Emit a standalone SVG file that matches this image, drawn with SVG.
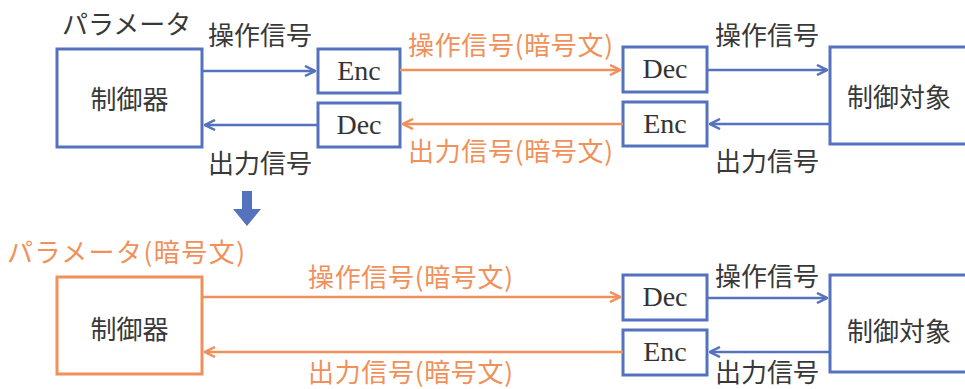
<svg xmlns="http://www.w3.org/2000/svg" width="965" height="389" viewBox="0 0 965 389">
<style>
.bg{fill:#ffffff}
.bb{fill:#ffffff;stroke:#5472bd;stroke-width:3}
.ob{fill:#ffffff;stroke:#f0905a;stroke-width:3}
.jp{font-family:"Noto Sans CJK JP","Noto Sans",sans-serif;font-size:26px}
.k{fill:#383838}
.o{fill:#f0905a}
.ser{font-family:"Liberation Serif","DejaVu Serif",serif;font-size:28px;fill:#333333;text-anchor:middle}
.bl{stroke:#5472bd;stroke-width:2.5;fill:none}
.ol{stroke:#f0905a;stroke-width:2.5;fill:none}
</style>
<defs>
<marker id="ab" viewBox="0 0 10 10" refX="9" refY="5" markerWidth="5" markerHeight="5" orient="auto-start-reverse" markerUnits="strokeWidth">
<path d="M1,1 L9,5 L1,9" fill="none" stroke="#5472bd" stroke-width="2"/>
</marker>
<marker id="ao" viewBox="0 0 10 10" refX="9" refY="5" markerWidth="5" markerHeight="5" orient="auto-start-reverse" markerUnits="strokeWidth">
<path d="M1,1 L9,5 L1,9" fill="none" stroke="#f0905a" stroke-width="2"/>
</marker>
</defs>
<rect class="bg" x="0" y="0" width="965" height="389"/>

<g id="top-controller">
<rect class="bb" x="57" y="49" width="145" height="98"/>
<text class="jp k" x="129.5" y="109" text-anchor="middle">制御器</text>
</g>
<g id="top-enc-left">
<rect class="bb" x="318" y="49" width="82" height="44"/>
<text class="ser" x="359" y="80">Enc</text>
</g>
<g id="top-dec-left">
<rect class="bb" x="318" y="103" width="82" height="44"/>
<text class="ser" x="359" y="134">Dec</text>
</g>
<g id="top-dec-right">
<rect class="bb" x="623" y="47" width="84" height="45"/>
<text class="ser" x="665" y="78">Dec</text>
</g>
<g id="top-enc-right">
<rect class="bb" x="623" y="102" width="84" height="44"/>
<text class="ser" x="665" y="133">Enc</text>
</g>
<g id="top-plant">
<rect class="bb" x="830" y="47" width="145" height="97"/>
<text class="jp k" x="847" y="107">制御対象</text>
</g>

<g id="bottom-controller">
<rect class="ob" x="57" y="277" width="145" height="97"/>
<text class="jp k" x="129.5" y="339" text-anchor="middle">制御器</text>
</g>
<g id="bottom-dec">
<rect class="bb" x="623" y="275" width="84" height="45"/>
<text class="ser" x="665" y="306">Dec</text>
</g>
<g id="bottom-enc">
<rect class="bb" x="623" y="330" width="84" height="45"/>
<text class="ser" x="665" y="361">Enc</text>
</g>
<g id="bottom-plant">
<rect class="bb" x="830" y="275" width="145" height="97"/>
<text class="jp k" x="847" y="341">制御対象</text>
</g>

<g id="connectors">
<line class="bl" x1="202" y1="71" x2="315" y2="71" marker-end="url(#ab)"/>
<line class="bl" x1="318" y1="125" x2="205" y2="125" marker-end="url(#ab)"/>
<line class="ol" x1="400" y1="70" x2="620" y2="70" marker-end="url(#ao)"/>
<line class="ol" x1="623" y1="124" x2="403" y2="124" marker-end="url(#ao)"/>
<line class="bl" x1="707" y1="70" x2="827" y2="70" marker-end="url(#ab)"/>
<line class="bl" x1="830" y1="124" x2="710" y2="124" marker-end="url(#ab)"/>

<line class="ol" x1="202" y1="297" x2="620" y2="297" marker-end="url(#ao)"/>
<line class="ol" x1="623" y1="352" x2="205" y2="352" marker-end="url(#ao)"/>
<line class="bl" x1="707" y1="298" x2="827" y2="298" marker-end="url(#ab)"/>
<line class="bl" x1="830" y1="352" x2="710" y2="352" marker-end="url(#ab)"/>

<path d="M242,191 L252,191 L252,209 L261,209 L247,226 L233,209 L242,209 Z" fill="#5472bd"/>
</g>

<g id="labels">
<text class="jp k" x="62" y="34">パラメータ</text>
<text class="jp k" x="208" y="45">操作信号</text>
<text class="jp k" x="208" y="173">出力信号</text>
<text class="jp o" x="408" y="55" textLength="205">操作信号(暗号文)</text>
<text class="jp o" x="408" y="161" textLength="205">出力信号(暗号文)</text>
<text class="jp k" x="715" y="45">操作信号</text>
<text class="jp k" x="715" y="171">出力信号</text>

<text class="jp o" x="7" y="262" textLength="238">パラメータ(暗号文)</text>
<text class="jp o" x="308" y="287" textLength="205">操作信号(暗号文)</text>
<text class="jp o" x="308" y="382" textLength="205">出力信号(暗号文)</text>
<text class="jp k" x="715" y="286">操作信号</text>
<text class="jp k" x="715" y="382">出力信号</text>
</g>
</svg>
